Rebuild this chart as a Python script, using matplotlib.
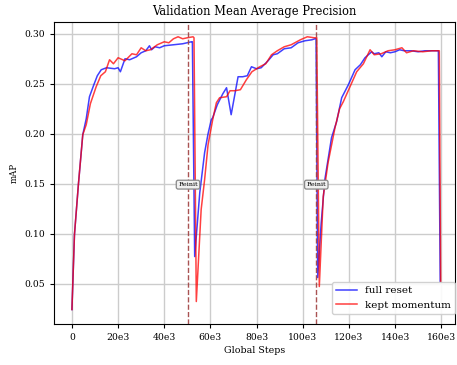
import matplotlib
matplotlib.use("Agg")
import matplotlib.pyplot as plt

# Evaluation steps and mAP values
full_reset_steps = [0, 1100, 2800, 4700, 6200, 7600, 9500, 11000, 12700, 15000, 18500, 20000, 21000, 23000,
                    25000, 28000, 30000, 32000, 33600, 34500, 36000, 38000, 40000, 44000, 48000, 51800,
                    52200, 53200, 55400, 57500, 59000, 60400, 61000, 63000, 65400, 67000, 69000, 72000,
                    74000, 76000, 77800, 80000, 82000, 85000, 87200, 89000, 92000, 95000, 98000, 101000,
                    104000, 105300, 105800, 106500, 108000, 109600, 112500, 114700, 116900, 119800,
                    122700, 125000, 127000, 129900, 131000, 133000, 134300, 136000, 138000, 140000,
                    142000, 144000, 147000, 150000, 153000, 156000, 158800, 159600]
full_reset_map = [0.024, 0.099, 0.149, 0.199, 0.215, 0.237, 0.249, 0.258, 0.264, 0.266, 0.265, 0.266, 0.262, 0.275,
                  0.274, 0.277, 0.281, 0.283, 0.288, 0.284, 0.287, 0.286, 0.288, 0.289, 0.290, 0.292,
                  0.292, 0.077, 0.141, 0.181, 0.200, 0.214, 0.216, 0.229, 0.240, 0.246, 0.219, 0.257,
                  0.257, 0.258, 0.267, 0.265, 0.266, 0.273, 0.279, 0.280, 0.285, 0.286, 0.291, 0.293,
                  0.294, 0.295, 0.295, 0.056, 0.110, 0.154, 0.196, 0.212, 0.236, 0.249,
                  0.264, 0.269, 0.276, 0.282, 0.280, 0.281, 0.277, 0.282, 0.281, 0.282,
                  0.284, 0.283, 0.283, 0.282, 0.283, 0.283, 0.283, 0.052]

kept_momentum_steps = [0, 1100, 2800, 4700, 6200, 8000, 10500, 12500, 14500, 16300, 18000, 20000, 23000,
                       26000, 28000, 30000, 32000, 34000, 37000, 40000, 42000, 44000, 46000, 48000, 50000,
                       52500, 52900, 53900, 56000, 57500, 59000, 61000, 62600, 64000, 67000, 68500, 70600,
                       73000, 75600, 78000, 81400, 84000, 86500, 89000, 92000, 95000, 99000, 102000,
                       105000, 106100, 107200, 108900, 111000, 114000, 116000, 117600, 120500, 123400,
                       126300, 129200, 131000, 134000, 137000, 140000, 143000, 145000, 148000, 152000,
                       156000, 159200, 159800]
kept_momentum_map = [0.024, 0.099, 0.149, 0.199, 0.209, 0.230, 0.247, 0.258, 0.262, 0.274, 0.270, 0.276, 0.273,
                     0.280, 0.279, 0.286, 0.283, 0.284, 0.289, 0.292, 0.291, 0.295, 0.297, 0.295, 0.296,
                     0.297, 0.296, 0.032, 0.124, 0.154, 0.189, 0.214, 0.231, 0.236, 0.237, 0.243, 0.243,
                     0.244, 0.254, 0.262, 0.267, 0.270, 0.279, 0.283, 0.287, 0.289, 0.294, 0.297,
                     0.296, 0.296, 0.047, 0.137, 0.171, 0.206, 0.225, 0.232, 0.247, 0.262,
                     0.270, 0.284, 0.279, 0.280, 0.283, 0.284, 0.286, 0.281, 0.283, 0.282,
                     0.283, 0.283, 0.052]

reinit_steps = [50300, 105900]
x_ticks = [0, 20000, 40000, 60000, 80000, 100000, 120000, 140000, 160000]
x_tick_labels = ["0", "20e3", "40e3", "60e3", "80e3", "100e3", "120e3", "140e3", "160e3"]
y_ticks = [0.05, 0.10, 0.15, 0.20, 0.25, 0.30]
y_tick_labels = ["0.05", "0.10", "0.15", "0.20", "0.25", "0.30"]

plt.rcParams['font.family'] = ['DejaVu Serif']

fig = plt.figure(figsize=(4.57, 3.65), dpi=100)
ax = fig.add_axes([0.118, 0.1123, 0.8776, 0.828])

ax.grid(True, color='#cccccc', linewidth=1.0)
ax.set_axisbelow(True)

ax.plot(full_reset_steps, full_reset_map, color='blue', alpha=0.75, linewidth=1.1, label='full reset')
ax.plot(kept_momentum_steps, kept_momentum_map, color='red', alpha=0.75, linewidth=1.1, label='kept momentum')

for s in reinit_steps:
    ax.axvline(s, color='#a04040', linestyle='--', linewidth=1.0, alpha=0.9)
    ax.text(s, 0.149, 'Reinit', fontsize=4.6, ha='center', va='center',
            bbox=dict(boxstyle='round,pad=0.3', facecolor='#f0f0f0', edgecolor='#888888', linewidth=0.9))

ax.set_xlim(-7800, 166000)
ax.set_ylim(0.0095, 0.312)
ax.set_xticks(x_ticks)
ax.set_xticklabels(x_tick_labels)
ax.set_yticks(y_ticks)
ax.set_yticklabels(y_tick_labels)
ax.tick_params(labelsize=6.7, length=3)

ax.set_title('Validation Mean Average Precision', fontsize=8.3, pad=5)
ax.set_xlabel('Global Steps', fontsize=6.8, labelpad=3)
ax.set_ylabel('mAP', fontsize=6.2, labelpad=4)

ax.legend(loc='upper left', bbox_to_anchor=(0.6925, 0.14), borderaxespad=0,
          fontsize=7.5, framealpha=0.9, handlelength=2.0)

fig.savefig('out.png', dpi=100)
